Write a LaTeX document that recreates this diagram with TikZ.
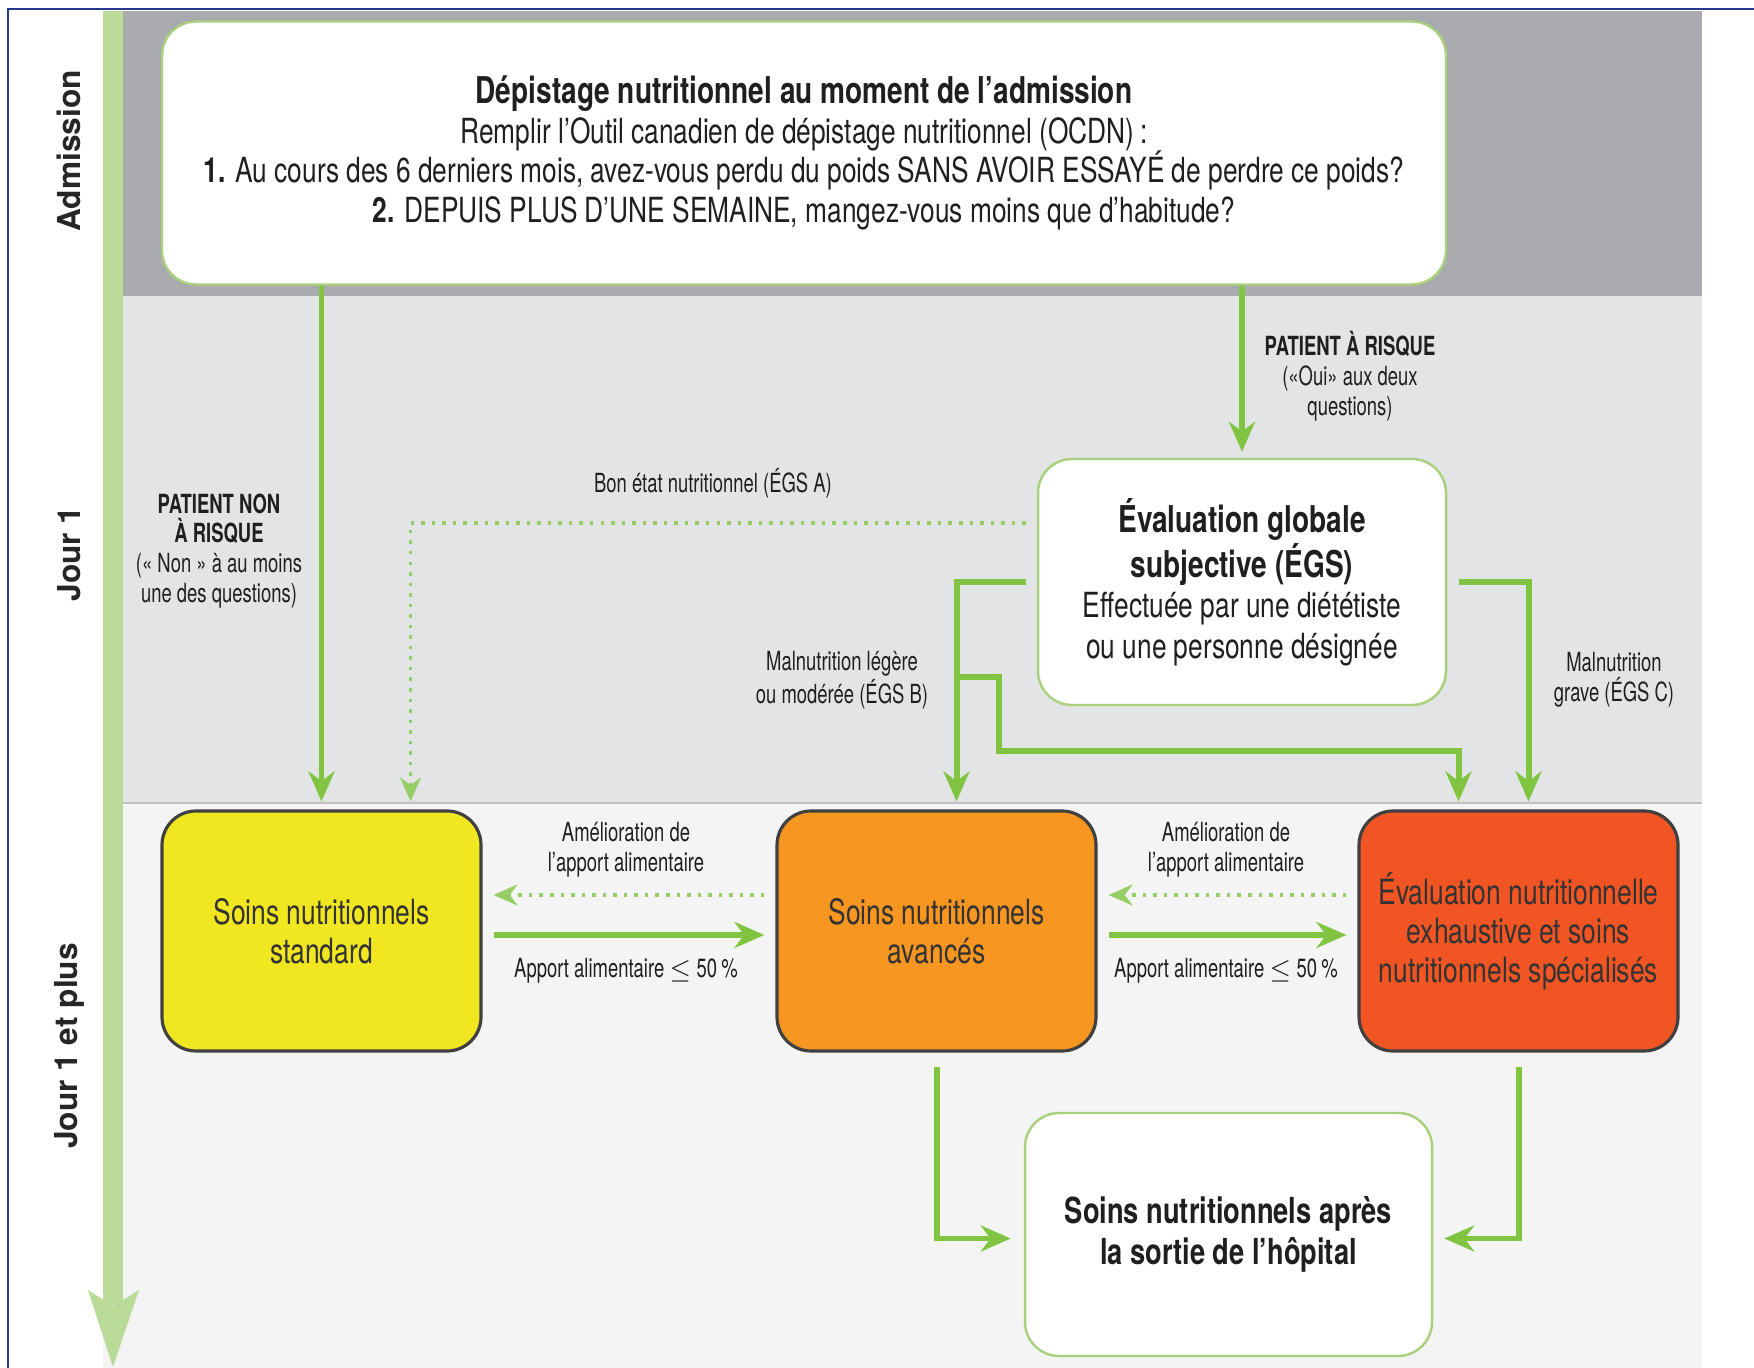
\documentclass[tikz,border=0pt]{standalone}
\usepackage{fontspec}
\setmainfont{TeX Gyre Heros}
\newfontfamily\cnd{TeX Gyre Heros}[FakeStretch=0.76]
\newfontfamily\cndsm{TeX Gyre Heros}[FakeStretch=0.70]
\usepackage{tikz}
\usetikzlibrary{positioning, arrows.meta}
\definecolor{admgray}{RGB}{169,171,174}
\definecolor{daygray}{RGB}{226,228,230}
\definecolor{latergray}{RGB}{244,244,244}
\definecolor{timegreen}{RGB}{186,218,152}
\definecolor{flowgreen}{RGB}{128,196,66}
\definecolor{dotgreen}{RGB}{150,205,100}
\definecolor{edgegreen}{RGB}{170,208,125}
\definecolor{stdyellow}{RGB}{241,231,33}
\definecolor{advorange}{RGB}{247,150,32}
\definecolor{specred}{RGB}{240,85,35}
\definecolor{frameblue}{RGB}{40,55,140}

\begin{document}
\begin{tikzpicture}[x=0.1mm, y=-0.1mm,
  box/.style={draw=edgegreen, line width=0.7pt, fill=white, rounded corners=3.4mm,
              inner sep=0pt, align=center, text=black!88,
              font=\cnd\fontsize{9.85}{11.3}\selectfont},
  care/.style={draw=black!75, line width=0.9pt, rounded corners=3.4mm, inner sep=0pt,
               minimum width=31.9mm, minimum height=24mm, align=center, text=black!80,
               font=\cnd\fontsize{9.9}{11.1}\selectfont},
  lab/.style={align=center, text=black!88, font=\cndsm\fontsize{7.5}{8.5}\selectfont},
  lane/.style={rotate=90, font=\bfseries\fontsize{9}{10}\selectfont, text=black!85},
  arr/.style={-{Stealth[length=3mm, width=2.6mm]}, line width=1.7pt, flowgreen},
  dotarr/.style={-{Stealth[length=2.4mm, width=2.1mm]}, line width=1pt, dotgreen,
                 dash pattern=on 1pt off 2pt}
]
\useasboundingbox (0,0) rectangle (1754,1368);
\fill[white] (0,0) rectangle (1754,1368);
\fill[admgray] (103,11) rectangle (1702,296);
\fill[daygray] (103,296) rectangle (1702,803);
\fill[latergray] (103,803) rectangle (1702,1368);
\draw[black!25, line width=0.4pt] (103,803) -- (1702,803);
\fill[timegreen] (103,11) rectangle (123,1305);
\fill[timegreen] (88,1290) -- (113,1367) -- (139,1290) -- (113,1306) -- cycle;
\draw[frameblue, line width=0.8pt] (8,1368) -- (8,9) -- (1754,9);

\node[lane] (adm) at (69,151) {Admission};
\node[lane] (day) at (69,554) {Jour 1};
\node[lane] (later) at (69,1046) {Jour 1 et plus};

\node[box, minimum width=128.4mm, minimum height=26.3mm] (top) at (804,153)
  {{\bfseries\fontsize{10.5}{11.3}\selectfont Dépistage nutritionnel au moment de l’admission}\\
   Remplir l’Outil canadien de dépistage nutritionnel (OCDN)\,:\\
   {\bfseries 1.} Au cours des 6 derniers mois, avez-vous perdu du poids SANS AVOIR ESSAYÉ de perdre ce poids?\\
   {\bfseries 2.} DEPUIS PLUS D’UNE SEMAINE, mangez-vous moins que d’habitude?};
\node[box, minimum width=40.8mm, minimum height=24.6mm,
      font=\cnd\fontsize{9.85}{11.5}\selectfont] (egs) at (1242,582)
  {{\bfseries\fontsize{10.5}{11.5}\selectfont Évaluation globale}\\
   {\bfseries\fontsize{10.5}{11.5}\selectfont subjective (ÉGS)}\\
   Effectuée par une diététiste\\ ou une personne désignée};
\node[care, fill=stdyellow] (std) at (321.5,931) {Soins nutritionnels\\ standard};
\node[care, fill=advorange] (adv) at (936.5,931) {Soins nutritionnels\\ avancés};
\node[care, fill=specred] (egn) at (1518.5,931)
  {Évaluation nutritionnelle\\ exhaustive et soins\\ nutritionnels spécialisés};
\node[box, minimum width=40.7mm, minimum height=24.3mm,
      font=\cnd\fontsize{10.2}{11.6}\selectfont] (dis) at (1228.5,1234.5)
  {\textbf{Soins nutritionnels après}\\ \textbf{la sortie de l’hôpital}};

\node[lab] (risk) at (1350,376) {\textbf{PATIENT À RISQUE}\\ («Oui» aux deux\\ questions)};
\node[lab] (norisk) at (219,551)
  {\textbf{PATIENT NON}\\ \textbf{À RISQUE}\\ (« Non » à au moins\\ une des questions)};
\node[lab] (egsa) at (713,483) {Bon état nutritionnel (ÉGS A)};
\node[lab] (egsb) at (842,680) {Malnutrition légère\\ ou modérée (ÉGS B)};
\node[lab] (egsc) at (1614,680) {Malnutrition\\ grave (ÉGS C)};
\node[lab] (up1) at (626,850) {Amélioration de\\ l’apport alimentaire};
\node[lab] (down1) at (626,971) {Apport alimentaire $\leq$ 50\,\%};
\node[lab] (up2) at (1226,850) {Amélioration de\\ l’apport alimentaire};
\node[lab] (down2) at (1226,971) {Apport alimentaire $\leq$ 50\,\%};

\draw[arr, shorten >=0.8mm] (top.south -| std.north) -- (std.north);
\draw[arr, shorten >=0.6mm] (top.south -| egs.north) -- (egs.north);
\draw[dotarr, shorten <=1.1mm, shorten >=0.8mm] ([yshift=5.9mm]egs.west) -| ([xshift=-7.2mm]std.north east);
\draw[arr, shorten <=1.1mm, shorten >=0.8mm] (egs.west) -| ([xshift=2mm]adv.north);
\coordinate (fork) at (956,677);
\draw[arr, shorten >=0.8mm] (fork) -- ++(43,0) -- ++(0,74) -| ([xshift=-6mm]egn.north);
\draw[arr, shorten <=1.2mm, shorten >=0.8mm] (egs.east) -| ([xshift=1mm]egn.north);
\draw[arr, shorten <=1.1mm, shorten >=1.1mm] ([yshift=-0.4mm]std.east) -- ([yshift=-0.4mm]adv.west);
\draw[dotarr, shorten <=1.1mm, shorten >=1.1mm] ([yshift=3.6mm]adv.west) -- ([yshift=3.6mm]std.east);
\draw[arr, shorten <=1.1mm, shorten >=1.1mm] ([yshift=-0.4mm]adv.east) -- ([yshift=-0.4mm]egn.west);
\draw[dotarr, shorten <=1.1mm, shorten >=1.1mm] ([yshift=3.6mm]egn.west) -- ([yshift=3.6mm]adv.east);
\draw[arr, shorten <=1.4mm, shorten >=1.3mm] (adv.south) |- ([yshift=-0.4mm]dis.west);
\draw[arr, shorten <=1.4mm, shorten >=1.1mm] (egn.south) |- ([yshift=-0.4mm]dis.east);
\end{tikzpicture}
\end{document}
